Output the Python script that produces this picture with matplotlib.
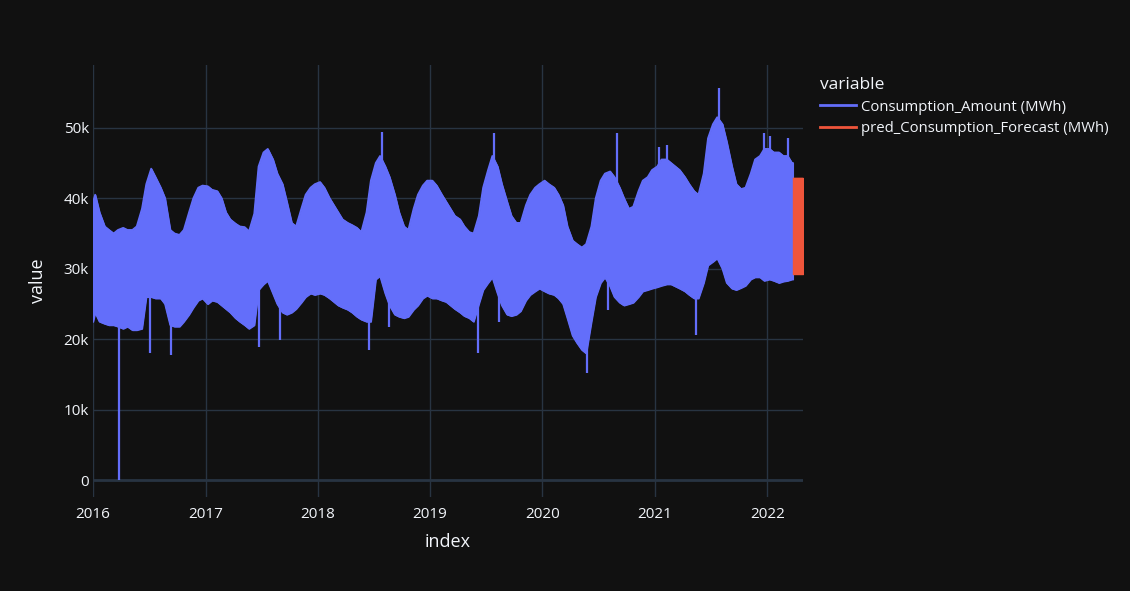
import pandas as pd
import matplotlib.pyplot as plt
import matplotlib.dates as mdates
from matplotlib.ticker import FuncFormatter

plt.rcParams['font.family'] = ['Open Sans', 'DejaVu Sans']

# Half-monthly envelope of the hourly consumption (thousand MWh)
periods = pd.date_range('2016-01-01', '2022-03-15', freq='SMS') + pd.Timedelta(days=7)
upper = [
    40.5, 38.0, 36.0, 35.5, 35.0, 35.5, 35.8, 35.5, 35.5, 36.0, 38.5, 42.0,   # 2016
    44.2, 43.0, 41.5, 40.0, 35.5, 35.0, 34.8, 35.5, 38.0, 40.0, 41.5, 41.8,
    41.7, 41.2, 41.0, 40.0, 38.0, 37.0, 36.4, 36.0, 35.9, 35.3, 37.8, 44.5,   # 2017
    46.5, 47.0, 45.5, 43.5, 42.0, 39.5, 36.5, 36.0, 38.5, 40.5, 41.5, 42.0,
    42.3, 41.5, 40.0, 39.0, 38.0, 37.0, 36.5, 36.2, 35.8, 35.2, 38.0, 42.5,   # 2018
    45.0, 46.0, 44.5, 43.0, 40.5, 38.0, 36.0, 35.5, 38.5, 40.5, 41.8, 42.5,
    42.5, 41.8, 40.5, 39.5, 38.5, 37.5, 37.0, 36.0, 35.2, 35.0, 37.5, 41.5,   # 2019
    44.0, 46.0, 44.5, 42.0, 39.5, 37.5, 36.5, 36.5, 39.0, 40.5, 41.5, 42.0,
    42.5, 42.0, 41.5, 40.5, 39.0, 36.0, 34.0, 33.5, 33.0, 33.5, 36.0, 40.0,   # 2020
    42.5, 43.5, 43.8, 43.0, 41.5, 40.0, 38.5, 38.8, 41.0, 42.5, 43.0, 44.0,
    44.5, 45.5, 45.5, 45.0, 44.5, 44.0, 43.0, 42.0, 41.0, 40.5, 43.5, 48.5,   # 2021
    50.5, 51.5, 50.5, 48.0, 44.5, 42.0, 41.3, 41.5, 43.5, 45.5, 46.0, 47.0,
    47.0, 46.5, 46.5, 46.0, 46.0, 45.0,                                       # 2022
]
lower = [
    23.8, 22.5, 22.2, 22.0, 22.0, 21.8, 21.5, 21.8, 21.3, 21.3, 21.5, 26.0,   # 2016
    26.0, 25.8, 25.8, 25.0, 22.0, 21.8, 21.8, 22.5, 23.5, 24.5, 25.5, 25.8,
    25.0, 25.5, 25.3, 24.8, 24.3, 23.8, 23.0, 22.5, 22.0, 21.5, 22.0, 27.0,   # 2017
    27.8, 28.3, 26.5, 25.0, 23.8, 23.5, 23.8, 24.3, 25.2, 26.0, 26.5, 26.3,
    26.5, 26.3, 25.8, 25.3, 24.8, 24.5, 24.2, 23.8, 23.2, 22.8, 22.5, 22.5,   # 2018
    28.5, 29.0, 26.5, 24.8, 23.5, 23.2, 23.0, 23.2, 24.2, 24.8, 25.8, 26.2,
    25.8, 25.8, 25.5, 25.3, 24.8, 24.3, 23.8, 23.3, 23.0, 22.5, 25.0, 27.0,   # 2019
    28.0, 28.8, 26.5, 24.8, 23.5, 23.3, 23.5, 24.0, 25.5, 26.3, 26.8, 27.2,
    26.8, 26.5, 26.3, 25.8, 25.0, 23.0, 20.5, 19.5, 18.5, 18.0, 22.5, 26.0,   # 2020
    28.0, 28.8, 27.5, 26.0, 25.2, 24.8, 25.0, 25.2, 26.0, 26.8, 27.0, 27.2,
    27.4, 27.6, 27.8, 27.8, 27.5, 27.2, 26.8, 26.3, 25.8, 25.8, 28.0, 30.5,   # 2021
    31.0, 31.5, 30.0, 28.0, 27.2, 27.0, 27.3, 27.6, 28.5, 28.8, 28.8, 28.3,
    28.5, 28.3, 28.0, 28.2, 28.3, 28.5,                                       # 2022
]
# first and last hour of the observed series
start_date, end_date = pd.Timestamp('2016-01-01'), pd.Timestamp('2022-03-25')
start_upper, start_lower = 39.5, 22.5
end_upper, end_lower = 45.0, 28.5

# single-hour spikes (holidays, heat waves)
spike_dates = pd.to_datetime([
    '2016-03-26', '2016-07-04', '2016-09-12', '2017-06-25', '2017-09-01',
    '2018-06-15', '2018-07-27', '2018-08-21', '2019-06-04', '2019-07-26',
    '2019-08-12', '2020-05-24', '2020-07-31', '2020-08-31', '2021-01-15',
    '2021-02-08', '2021-05-13', '2021-07-29', '2021-12-22', '2022-01-10',
    '2022-03-10',
])
spike_values = [
    0, 18.0, 17.8, 18.9, 19.9,
    18.4, 49.4, 21.7, 18.0, 49.2,
    22.5, 15.2, 24.1, 49.2, 47.3,
    47.5, 20.6, 55.6, 49.2, 48.8,
    48.6,
]
spike_base = 32.0

# forecast block
forecast_dates = pd.to_datetime(['2022-03-25', '2022-04-26'])
forecast_low = [29.3, 29.3]
forecast_high = [42.8, 42.8]

BLUE = '#636EFA'
RED = '#EF553B'
BG = '#111111'
GRID = '#283442'
TXT = '#f2f5fa'

dates = [start_date] + list(periods) + [end_date]
up = [v * 1000 for v in [start_upper] + upper + [end_upper]]
lo = [v * 1000 for v in [start_lower] + lower + [end_lower]]

fig = plt.figure(figsize=(11.3, 5.91), dpi=100, facecolor=BG)
ax = fig.add_axes([93 / 1130, 1 - 497 / 591, 710 / 1130, 432 / 591], facecolor=BG)

ax.fill_between(dates, lo, up, color=BLUE, lw=1)
line1, = ax.plot(dates, up, color=BLUE, lw=1.2, label='Consumption_Amount (MWh)')
ax.plot(dates, lo, color=BLUE, lw=1.2)
ax.vlines(spike_dates, spike_base * 1000, [v * 1000 for v in spike_values], color=BLUE, lw=1.6)

ax.fill_between(forecast_dates, [v * 1000 for v in forecast_low],
                [v * 1000 for v in forecast_high], color=RED, lw=1)
line2, = ax.plot(forecast_dates, [v * 1000 for v in forecast_high], color=RED, lw=1,
                 label='pred_Consumption_Forecast (MWh)')

ax.set_xlim(pd.Timestamp('2016-01-01'), pd.Timestamp('2022-04-27'))
ax.set_ylim(-2400, 58900)
ax.xaxis.set_major_locator(mdates.YearLocator())
ax.xaxis.set_major_formatter(mdates.DateFormatter('%Y'))
ax.set_yticks([0, 10000, 20000, 30000, 40000, 50000])
ax.yaxis.set_major_formatter(FuncFormatter(lambda v, p: '0' if v == 0 else f'{int(v / 1000)}k'))

ax.grid(True, color=GRID, lw=1)
ax.axhline(0, color=GRID, lw=2, zorder=0.5)
ax.set_axisbelow(True)
for s in ax.spines.values():
    s.set_visible(False)
ax.tick_params(length=0, colors=TXT, labelsize=11)
ax.tick_params(axis='x', pad=7)
ax.tick_params(axis='y', pad=3)

ax.set_xlabel('index', color=TXT, fontsize=13, labelpad=8)
ax.set_ylabel('value', color=TXT, fontsize=13, labelpad=12)

leg = fig.legend(handles=[line1, line2], loc='upper left',
                 bbox_to_anchor=(820 / 1130, 1 - 77 / 591), frameon=False,
                 title='variable', alignment='left', fontsize=10.7,
                 title_fontsize=12.5, handlelength=2.4, handletextpad=0.35,
                 labelspacing=0.45, borderpad=0, borderaxespad=0)
for t in leg.get_texts():
    t.set_color(TXT)
leg.get_title().set_color(TXT)
for h in leg.legend_handles:
    h.set_linewidth(2)

plt.savefig('out.png', dpi=100, facecolor=BG)
